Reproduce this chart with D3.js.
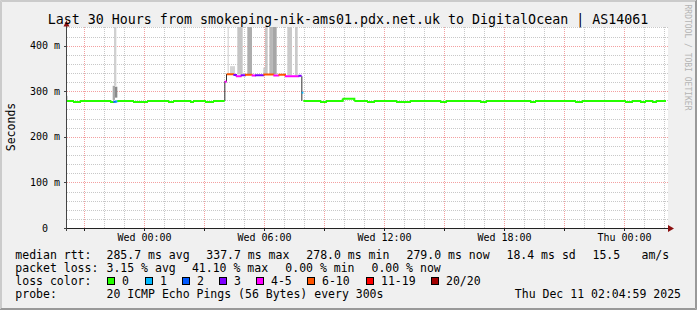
<!DOCTYPE html>
<html>
<head>
<meta charset="utf-8">
<script src="https://cdn.jsdelivr.net/npm/d3@7"></script>
<style>
  html, body { margin: 0; padding: 0; background: #f0f0f0; }
  svg { display: block; }
  text { font-family: "DejaVu Sans Mono", monospace; fill: #000; }
</style>
</head>
<body>
<svg id="chart" width="697" height="310"></svg>
<script>
var title = "Last 30 Hours from smokeping-nik-ams01.pdx.net.uk to DigitalOcean | AS14061";
var startTime = new Date(2025, 11, 9, 20, 5);
var endTime = new Date(2025, 11, 11, 2, 5);
var yMax = 441;
var yTicks = [0, 100, 200, 300, 400];
var yTickLabels = ["0", "100 m", "200 m", "300 m", "400 m"];

// median rtt runs: [start minute, end minute, rtt ms, lost pings of 20]
var medianRuns = [
  [0, 21, 278.6, 0], [21, 42, 276.6, 0], [42, 132, 278.6, 0], [132, 142, 276.6, 0],
  [142, 149, 277, 2], [149, 154, 278, 1], [154, 201, 278.6, 0], [201, 243, 276.6, 0],
  [243, 306, 278.6, 0], [306, 321, 276.6, 0], [321, 372, 278.6, 0], [372, 381, 276.6, 0],
  [381, 417, 278.6, 0], [417, 441, 276.6, 0], [441, 476, 278.6, 0],
  [476, 482, 321, 5],
  [482, 502, 337.5, 7], [502, 510, 335.5, 3], [510, 524, 333, 5], [524, 537, 335, 3],
  [537, 557, 336.5, 7], [557, 567, 334.5, 4], [567, 592, 335, 3], [592, 622, 337, 7],
  [622, 637, 334.5, 5], [637, 657, 336, 8], [657, 697, 333, 4], [697, 707, 334, 3],
  [707, 712, 297, 1],
  [712, 762, 278.6, 0], [762, 780, 276.6, 0], [780, 830, 278.6, 0], [830, 865, 283.5, 0],
  [865, 903, 278.6, 0], [903, 924, 276.6, 0], [924, 990, 278.6, 0], [990, 1032, 276.6, 0],
  [1032, 1122, 278.6, 0], [1122, 1140, 276.6, 0], [1140, 1242, 278.6, 0], [1242, 1260, 276.6, 0],
  [1260, 1392, 278.6, 0], [1392, 1407, 276.6, 0], [1407, 1527, 278.6, 0], [1527, 1548, 276.6, 0],
  [1548, 1677, 278.6, 0], [1677, 1698, 276.6, 0], [1698, 1722, 278.6, 0], [1722, 1737, 276.6, 0],
  [1737, 1758, 278.6, 0], [1758, 1770, 276.6, 0], [1770, 1800, 278.6, 0]
];

// smoke: [start minute, end minute, low ms, high ms, shade]
var smokeBands = [
  [0, 5, 281, 290, "#bdbdbd"],
  [140, 147, 281, 312, "#a8a8a8"], [147, 154, 286, 310, "#8a8a8a"], [144, 151, 312, 460, "#d0d0d0"],
  [475, 478, 279, 322, "#303030"], [480, 483, 321, 338, "#303030"],
  [706, 709, 279, 333, "#303030"], [829, 832, 279, 284, "#505050"],
  [485, 488, 338, 460, "#cccccc"], [492, 507, 338, 355, "#d4d4d4"],
  [514, 530, 337, 460, "#c4c4c4"], [544, 558, 337, 460, "#adadad"],
  [592, 597, 337, 352, "#c8c8c8"], [597, 605, 337, 460, "#c6c6c6"],
  [610, 619, 337, 460, "#b8b8b8"], [619, 632, 337, 460, "#a6a6a6"],
  [664, 678, 335, 460, "#cacaca"], [687, 695, 335, 460, "#cacaca"]
];

var lossLabels = ["0", "1", "2", "3", "4-5", "6-10", "11-19", "20/20"];
var lossColors = ["#26ff00", "#00b8ff", "#0059ff", "#7e00ff", "#ff00ff", "#ff5500", "#ff0000", "#a10000"];
var lossMax = [0, 1, 2, 3, 5, 10, 19, 20];

var rttStats = ["285.7 ms avg", "337.7 ms max", "278.0 ms min", "279.0 ms now", "18.4 ms sd", "15.5", "am/s"];
var lossStats = ["3.15 % avg", "41.10 % max", "0.00 % min", "0.00 % now"];
var probeText = "20 ICMP Echo Pings (56 Bytes) every 300s";
var stamp = "Thu Dec 11 02:04:59 2025";

var W = 697, H = 310;
var plotL = 66, plotR = 666, plotT = 27, plotB = 228;

var svg = d3.select("#chart");

function minute(m) { return new Date(startTime.getTime() + m * 60000); }
function px(v) { return Math.round(v) + 0.5; }

var x = d3.scaleTime().domain([startTime, endTime]).range([plotL, plotR]);
var y = d3.scaleLinear().domain([0, yMax]).range([plotB, plotT]);

// background + 3d frame
svg.append("rect").attr("width", W).attr("height", H).attr("fill", "#f0f0f0");
svg.append("path").attr("d", "M0.5," + H + "V0.5H" + W + "M1.5," + (H - 1) + "V1.5H" + (W - 1))
  .attr("fill", "none").attr("stroke", "#cbcbcb");
svg.append("path").attr("d", "M0," + (H - 0.5) + "H" + (W - 0.5) + "V0M1," + (H - 1.5) + "H" + (W - 1.5) + "V1")
  .attr("fill", "none").attr("stroke", "#999");

svg.append("rect").attr("x", plotL + 1).attr("y", plotT).attr("width", plotR - plotL + 1)
  .attr("height", plotB - plotT).attr("fill", "#fff");

// grid
var grid = svg.append("g").attr("fill", "none").attr("stroke-dasharray", "1,1");
var hours = x.ticks(d3.timeHour.every(1));
hours.forEach(function (d) {
  var major = d.getHours() % 3 === 0;
  grid.append("line")
    .attr("x1", px(x(d))).attr("x2", px(x(d)))
    .attr("y1", plotT).attr("y2", plotB)
    .attr("stroke", major ? "#f3a0a0" : "#c8c8c8");
});
d3.range(20, yMax, 20).forEach(function (v) {
  var major = v % 100 === 0;
  grid.append("line")
    .attr("x1", plotL + 1).attr("x2", plotR + 2)
    .attr("y1", px(y(v))).attr("y2", px(y(v)))
    .attr("stroke", major ? "#f3a0a0" : "#c8c8c8");
});

// smoke
svg.append("clipPath").attr("id", "plot").append("rect")
  .attr("x", plotL + 1).attr("y", plotT).attr("width", plotR - plotL).attr("height", plotB - plotT);

svg.append("g").attr("clip-path", "url(#plot)")
  .selectAll("rect").data(smokeBands).enter().append("rect")
  .attr("x", function (d) { return x(minute(d[0])); })
  .attr("width", function (d) { return x(minute(d[1])) - x(minute(d[0])); })
  .attr("y", function (d) { return y(d[3]); })
  .attr("height", function (d) { return y(d[2]) - y(d[3]); })
  .attr("fill", function (d) { return d[4]; });

// median line coloured by loss
function lossIndex(n) {
  for (var i = 0; i < lossMax.length; i++) { if (n <= lossMax[i]) return i; }
  return lossMax.length - 1;
}
var line = d3.line().x(function (p) { return x(minute(p[0])); }).y(function (p) { return y(p[1]); });

svg.append("g").attr("fill", "none").attr("stroke-width", 2)
  .selectAll("path").data(medianRuns).enter().append("path")
  .attr("d", function (d, i) {
    var pts = [[d[0], d[2]], [d[1], d[2]]];
    var next = medianRuns[i + 1];
    if (next && Math.abs(next[2] - d[2]) < 8) pts.push([d[1], next[2]]);
    return line(pts);
  })
  .attr("stroke", function (d) { return lossColors[lossIndex(d[3])]; });

// axes
var axis = svg.append("g");
axis.append("line").attr("x1", 64).attr("x2", 669).attr("y1", px(y(0))).attr("y2", px(y(0)))
  .attr("stroke", "#222");
axis.append("line").attr("x1", plotL + 0.5).attr("x2", plotL + 0.5).attr("y1", 231).attr("y2", 25)
  .attr("stroke", "#444");
hours.filter(function (d) { return d.getHours() % 3 === 0; }).forEach(function (d) {
  axis.append("line").attr("x1", px(x(d))).attr("x2", px(x(d))).attr("y1", plotB).attr("y2", plotB + 3)
    .attr("stroke", "#222");
});
yTicks.forEach(function (v) {
  axis.append("line").attr("x1", plotL - 2).attr("x2", plotL + 1).attr("y1", px(y(v))).attr("y2", px(y(v)))
    .attr("stroke", "#444");
});
axis.append("path").attr("d", "M668,225L674,228.5L668,232Z").attr("fill", "#8b1010");
axis.append("path").attr("d", "M63.5,26.5L66.5,20.5L69.5,26.5Z").attr("fill", "#8b1010");

// tick labels
var fmt = d3.timeFormat("%a %H:%M");
svg.append("g").attr("font-size", 10).attr("text-anchor", "middle")
  .selectAll("text").data(hours.filter(function (d) { return d.getHours() % 6 === 0; }))
  .enter().append("text")
  .attr("x", function (d) { return Math.round(x(d)) + 0.5; })
  .attr("y", 241)
  .text(fmt);

svg.append("g").attr("font-size", 10).attr("text-anchor", "end")
  .selectAll("text").data(yTicks).enter().append("text")
  .attr("x", function (d, i) { return yTickLabels[i] === "0" ? 48 : 60; })
  .attr("y", function (d) { return y(d) + 3.6; })
  .text(function (d, i) { return yTickLabels[i]; });

// titles
svg.append("text").attr("x", 348).attr("y", 23.5).attr("text-anchor", "middle")
  .attr("font-size", 13.3).text(title);
svg.append("text").attr("transform", "translate(15,127) rotate(-90)").attr("text-anchor", "middle")
  .attr("font-size", 11.5).text("Seconds");
svg.append("text").attr("transform", "translate(685,4.5) rotate(90)")
  .attr("font-size", 8).style("fill", "#b4b4b4").text("RRDTOOL / TOBI OETIKER");

// legend
var legend = svg.append("g").attr("font-size", 11.5);
var rows = [258.5, 271.8, 285.1, 298.4];
legend.append("text").attr("x", 15.3).attr("y", rows[0]).text("median rtt:");
legend.append("text").attr("x", 15.3).attr("y", rows[1]).text("packet loss:");
legend.append("text").attr("x", 15.3).attr("y", rows[2]).text("loss color:");
legend.append("text").attr("x", 15.3).attr("y", rows[3]).text("probe:");

var rttX = [106.5, 206.3, 306.3, 406.5, 506.5, 592.5, 641.5];
rttStats.forEach(function (s, i) {
  legend.append("text").attr("x", rttX[i]).attr("y", rows[0]).text(s);
});
var lossX = [106.5, 191.9, 285.3, 371.5];
lossStats.forEach(function (s, i) {
  legend.append("text").attr("x", lossX[i]).attr("y", rows[1]).text(s);
});
var boxX = [107.5, 145.5, 182.5, 219.5, 256.5, 307.5, 366.5, 431.5];
lossLabels.forEach(function (s, i) {
  legend.append("rect").attr("x", boxX[i]).attr("y", 277.5).attr("width", 7).attr("height", 7)
    .attr("fill", lossColors[i]).attr("stroke", "#000");
  legend.append("text").attr("x", boxX[i] + 14.5).attr("y", rows[2]).text(s);
});
legend.append("text").attr("x", 106.5).attr("y", rows[3]).text(probeText);
legend.append("text").attr("x", 681).attr("y", rows[3]).attr("text-anchor", "end").text(stamp);
</script>
</body>
</html>
